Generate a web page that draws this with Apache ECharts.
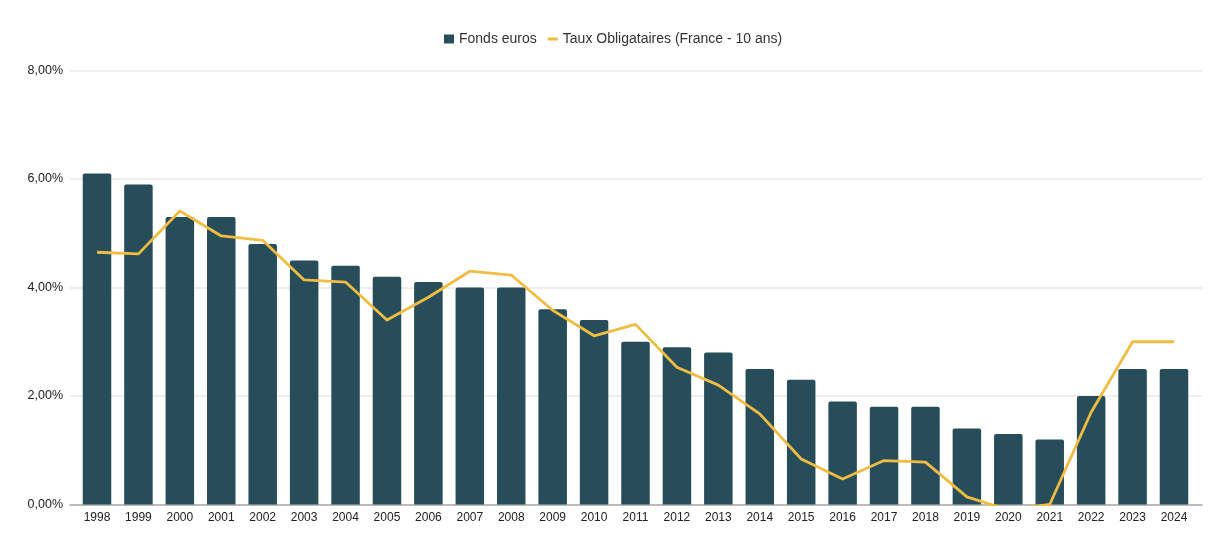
<!DOCTYPE html>
<html>
<head>
<meta charset="utf-8">
<style>
  html, body { margin: 0; padding: 0; background: #fff; }
  #chart { width: 1222px; height: 536px; }
</style>
<script src="https://cdn.jsdelivr.net/npm/echarts@6/dist/echarts.min.js"></script>
</head>
<body>
<div id="chart"></div>
<script>
var years = [1998, 1999, 2000, 2001, 2002, 2003, 2004, 2005, 2006, 2007, 2008, 2009, 2010, 2011, 2012, 2013, 2014, 2015, 2016, 2017, 2018, 2019, 2020, 2021, 2022, 2023, 2024];
var fondsEuros = [6.1, 5.9, 5.3, 5.3, 4.8, 4.5, 4.4, 4.2, 4.1, 4.0, 4.0, 3.6, 3.4, 3.0, 2.9, 2.8, 2.5, 2.3, 1.9, 1.8, 1.8, 1.4, 1.3, 1.2, 2.0, 2.5, 2.5];
var tauxOblig = [4.65, 4.62, 5.41, 4.95, 4.87, 4.14, 4.10, 3.40, 3.82, 4.30, 4.23, 3.58, 3.11, 3.32, 2.53, 2.20, 1.67, 0.84, 0.47, 0.81, 0.78, 0.14, -0.10, 0.0, 1.70, 3.0, 3.0];

var font = '"Liberation Sans", Arial, sans-serif';
var myChart = echarts.init(document.getElementById('chart'));

// axe x en valeur : les lignes de grille depassent des barres des deux cotes
var option = {
  animation: false,
  legend: {
    top: 27,
    left: 439,
    itemWidth: 10,
    itemHeight: 9,
    itemGap: 11,
    textStyle: { fontFamily: font, fontSize: 14, color: '#333' },
    data: [
      { name: 'Fonds euros', icon: 'rect' },
      { name: 'Taux Obligataires (France - 10 ans)', icon: 'path://M0,0h10v3H0z' }
    ]
  },
  grid: { left: 70, right: 20, top: 70.5, bottom: 31.5 },
  xAxis: {
    type: 'value',
    min: 1997.348,
    max: 2024.676,
    splitLine: { show: false },
    axisTick: { show: false },
    axisLine: { show: true, lineStyle: { color: '#aaaaaa', width: 1.5 } },
    axisLabel: {
      customValues: years,
      formatter: function (v) { return String(v); },
      fontFamily: font, fontSize: 12, color: '#222', margin: 7,
      showMinLabel: true, showMaxLabel: true
    }
  },
  yAxis: {
    type: 'value',
    min: 0,
    max: 8,
    interval: 2,
    axisLine: { show: false },
    axisTick: { show: false },
    splitLine: { lineStyle: { color: '#e8e8e8', width: 1.5 } },
    axisLabel: {
      formatter: function (v) { return v.toFixed(2).replace('.', ',') + '%'; },
      fontFamily: font, fontSize: 12.5, color: '#222', margin: 7, padding: [1, 0, 0, 0]
    }
  },
  series: [
    {
      name: 'Fonds euros',
      type: 'bar',
      barWidth: 28.5,
      itemStyle: { color: '#264d59', borderRadius: [2, 2, 0, 0] },
      data: years.map(function (y, i) { return [y, fondsEuros[i]]; })
    },
    {
      name: 'Taux Obligataires (France - 10 ans)',
      type: 'line',
      showSymbol: false,
      symbol: 'none',
      clip: true,
      lineStyle: { color: '#f1bc42', width: 2.8, join: 'round' },
      itemStyle: { color: '#f1bc42' },
      data: years.map(function (y, i) { return [y, tauxOblig[i]]; })
    }
  ]
};
myChart.setOption(option);
</script>
</body>
</html>
